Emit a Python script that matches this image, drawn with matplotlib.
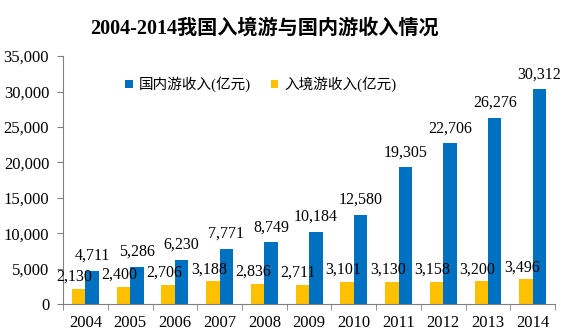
import matplotlib.pyplot as plt
import numpy as np

# ===== Data =====
YEARS = ["2004", "2005", "2006", "2007", "2008", "2009",
         "2010", "2011", "2012", "2013", "2014"]
DOMESTIC = [4711, 5286, 6230, 7771, 8749, 10184, 12580, 19305, 22706, 26276, 30312]
INBOUND = [2130, 2400, 2706, 3188, 2836, 2711, 3101, 3130, 3158, 3200, 3496]

TITLE = "2004-2014我国入境游与国内游收入情况"
LABEL_DOMESTIC = "国内游收入(亿元)"
LABEL_INBOUND = "入境游收入(亿元)"

# ===== Style =====
BLUE = "#0070C0"
YELLOW = "#FFC000"
FONTS = ["Liberation Serif", "Noto Sans CJK SC"]
BAR_W = 0.3

plt.rcParams["font.family"] = FONTS


def fmt(v):
    return f"{v:,}"


def main():
    fig = plt.figure(figsize=(5.63, 3.36), dpi=100)
    ax = fig.add_axes([0.112, 0.095, 0.874, 0.738])

    x = np.arange(len(YEARS))
    b_in = ax.bar(x - BAR_W / 2, INBOUND, BAR_W, color=YELLOW, label=LABEL_INBOUND)
    b_dom = ax.bar(x + BAR_W / 2, DOMESTIC, BAR_W, color=BLUE, label=LABEL_DOMESTIC)

    for rect, v in zip(b_in, INBOUND):
        ax.annotate(fmt(v), (rect.get_x() + rect.get_width() / 2, v),
                    xytext=(-3, 3), textcoords="offset points",
                    ha="center", va="bottom", fontsize=11.5)
    for rect, v in zip(b_dom, DOMESTIC):
        ax.annotate(fmt(v), (rect.get_x() + rect.get_width() / 2, v),
                    xytext=(0, 5), textcoords="offset points",
                    ha="center", va="bottom", fontsize=11.5)

    ax.set_xlim(-0.5, len(YEARS) - 0.5)
    ax.set_ylim(0, 35000)
    ax.set_yticks(range(0, 35001, 5000))
    ax.set_yticklabels([fmt(v) for v in range(0, 35001, 5000)], fontsize=12)
    ax.set_xticks(x)
    ax.set_xticklabels(YEARS, fontsize=12)
    ax.tick_params(axis="x", length=0, pad=8)
    ax.set_xticks(np.arange(-0.5, len(YEARS), 1), minor=True)
    ax.tick_params(axis="x", which="minor", length=4, color="#808080")
    ax.tick_params(axis="y", length=4, color="#808080", direction="out", pad=6)

    for side in ["top", "right"]:
        ax.spines[side].set_visible(False)
    ax.spines["left"].set_color("#808080")
    ax.spines["bottom"].set_color("#808080")

    handles = [b_dom, b_in]
    ax.legend(handles, [LABEL_DOMESTIC, LABEL_INBOUND], loc="center left",
              bbox_to_anchor=(0.1, 0.885), ncol=2, frameon=False,
              handlelength=0.5, handleheight=0.5, handletextpad=0.4,
              columnspacing=1.4, prop={"family": FONTS, "size": 10.5})

    fig.text(0.47, 0.915, TITLE, ha="center", va="center",
             fontsize=14.5, fontweight="bold")

    fig.savefig("out.png", dpi=100)


if __name__ == "__main__":
    main()
